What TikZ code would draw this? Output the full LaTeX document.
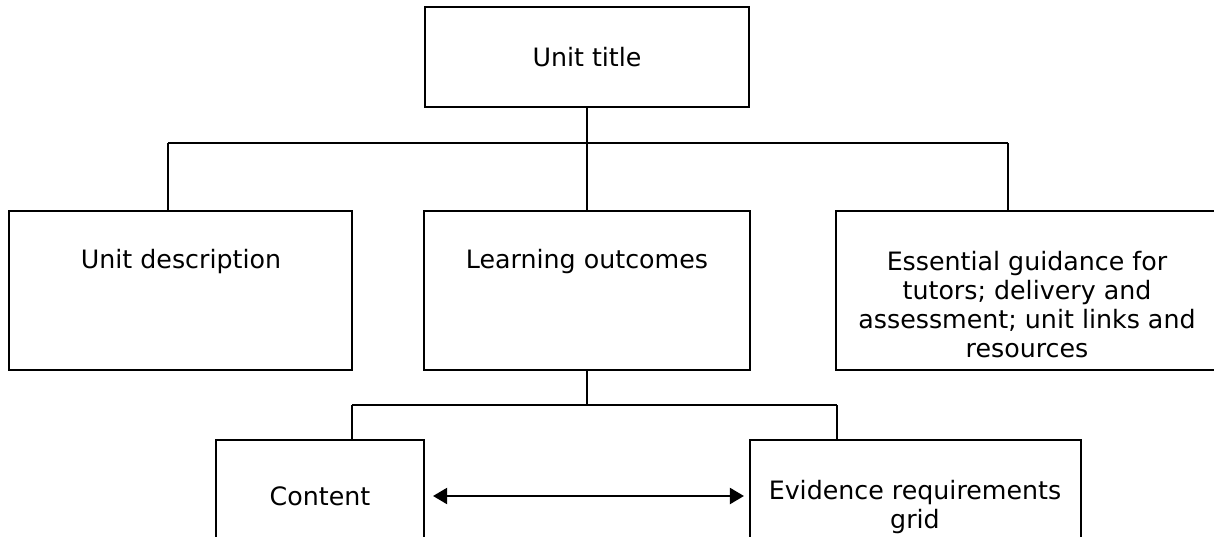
\documentclass[tikz,border=0pt]{standalone}
\usepackage{fontspec}
\setmainfont{DejaVu Sans}
\usetikzlibrary{arrows.meta,positioning}

\begin{document}
\begin{tikzpicture}[x=0.02cm,y=-0.02cm,line width=1.5pt,
  font=\fontsize{14.4}{16.5}\selectfont,
  box/.style={draw,rectangle,inner sep=0pt},
  txt/.style={align=center,inner sep=0pt},
  >={Triangle[length=8pt,width=9pt]}]
\useasboundingbox (0,0) rectangle (1214,537);
\clip (0,0) rectangle (1214,537);
% top box
\node[box,minimum width=6.48cm,minimum height=2cm] (title) at (587,57) {Unit title};
% second row
\node[box,minimum width=6.86cm,minimum height=3.18cm] (desc) at (180.5,290.5) {};
\node[box,minimum width=6.52cm,minimum height=3.18cm] (lo) at (587,290.5) {};
\node[box,minimum width=7.64cm,minimum height=3.18cm] (ess) at (1027,290.5) {};
\node[txt] (desctxt) at (181,262) {Unit description};
\node[txt] (lotxt) at (587,262) {Learning outcomes};
\node[txt] (esstxt) at (1027,305) {Essential guidance for\\tutors; delivery and\\assessment; unit links and\\resources};
% bottom row
\node[box,minimum width=4.16cm,minimum height=2.24cm] (content) at (320,496) {Content};
\node[box,minimum width=6.62cm,minimum height=2.24cm] (evid) at (915.5,496) {};
\node[txt] (evidtxt) at (915,507) {Evidence requirements\\grid};
% tree lines
\coordinate (t1) at (168,143);
\coordinate (t2) at (1008,143);
\coordinate (b1) at (352,405);
\coordinate (b2) at (837,405);
\draw (title.south) -- (title.south |- t1);
\draw (t1) -- (t2);
\draw (t1) -- (t1 |- desc.north);
\draw (t2) -- (t2 |- ess.north);
\draw (title.south |- t1) -- (lo.north);
\draw (lo.south) -- (lo.south |- b1);
\draw (b1) -- (b2);
\draw (b1) -- (b1 |- content.north);
\draw (b2) -- (b2 |- evid.north);
% link between content and grid
\coordinate (a1) at (433,496);
\coordinate (a2) at (744,496);
\draw[<->] (a1) -- (a2);
\end{tikzpicture}
\end{document}
